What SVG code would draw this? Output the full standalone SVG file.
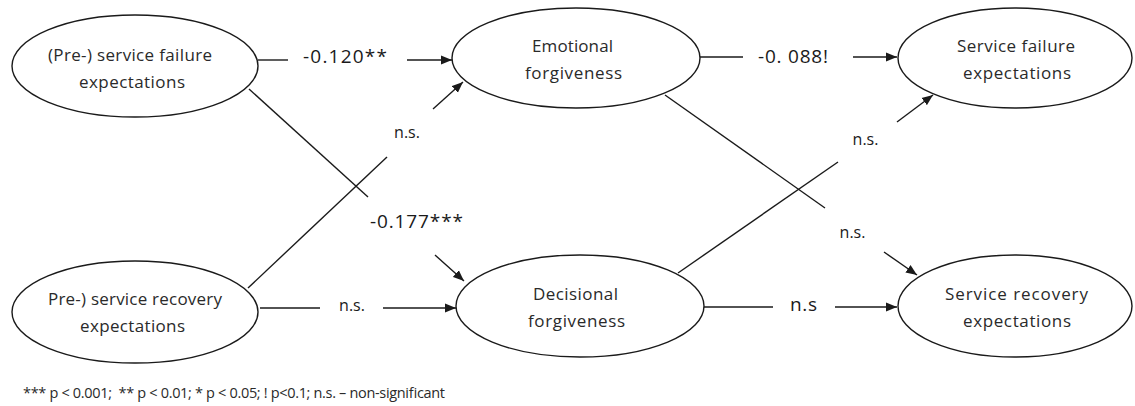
<svg xmlns="http://www.w3.org/2000/svg" width="1135" height="406" viewBox="0 0 1135 406">
<style>
.node ellipse{fill:#fff;stroke:#1a1a1a;stroke-width:1.4}
.node text{font-family:"Open Sans","Liberation Sans",sans-serif;font-size:17px;fill:#2a2a2a;text-anchor:middle}
.edge line{stroke:#1a1a1a;stroke-width:1.4;fill:none}
.arr{marker-end:url(#ah)}
.lbl{font-family:"Open Sans","Liberation Sans",sans-serif;fill:#1a1a1a;text-anchor:middle}
.big{font-size:19px}
.small{font-size:16px}
.legend{font-family:"Open Sans","Liberation Sans",sans-serif;font-size:14.5px;fill:#2a2a2a}
</style>
<defs>
<marker id="ah" markerUnits="userSpaceOnUse" markerWidth="12" markerHeight="10" refX="11" refY="5" orient="auto">
<path d="M0,0.5 L11,5 L0,9.5 Z" fill="#1a1a1a"/>
</marker>
</defs>
<rect width="1135" height="406" fill="#fff"/>
<g id="connectors" class="edge">
<line x1="258" y1="60" x2="288" y2="60"/>
<line class="arr" x1="407" y1="60" x2="452" y2="60"/>
<line x1="700" y1="57" x2="743" y2="57"/>
<line class="arr" x1="853" y1="57" x2="897" y2="57"/>
<line x1="260" y1="308" x2="320" y2="308"/>
<line class="arr" x1="383" y1="308" x2="456" y2="308"/>
<line x1="703" y1="307" x2="773" y2="307"/>
<line class="arr" x1="835" y1="307" x2="897" y2="307"/>
<line x1="249" y1="89" x2="368" y2="197"/>
<line class="arr" x1="435" y1="255" x2="464" y2="281"/>
<line x1="248" y1="288" x2="387" y2="157"/>
<line class="arr" x1="433" y1="109" x2="463" y2="82"/>
<line x1="665" y1="95" x2="825" y2="208"/>
<line class="arr" x1="884" y1="252" x2="917" y2="275"/>
<line x1="678" y1="273" x2="838" y2="162"/>
<line class="arr" x1="897" y1="122" x2="933" y2="95"/>
</g>
<g id="labels">
<text class="lbl big" x="345" y="63" textLength="84" lengthAdjust="spacing">-0.120**</text>
<text class="lbl big" x="793" y="63" textLength="70" lengthAdjust="spacing">-0. 088!</text>
<text class="lbl big" x="416.5" y="228" textLength="93" lengthAdjust="spacing">-0.177***</text>
<text class="lbl small" x="407" y="138">n.s.</text>
<text class="lbl small" x="352" y="311">n.s.</text>
<text class="lbl big" x="803.5" y="311" textLength="27" lengthAdjust="spacing">n.s</text>
<text class="lbl small" x="865.5" y="145">n.s.</text>
<text class="lbl small" x="852.5" y="238">n.s.</text>
</g>
<g id="n1" class="node">
<ellipse cx="135" cy="66" rx="123" ry="51"/>
<text x="130" y="61" textLength="164" lengthAdjust="spacing">(Pre-) service failure</text>
<text x="132" y="88" textLength="106" lengthAdjust="spacing">expectations</text>
</g>
<g id="n2" class="node">
<ellipse cx="576" cy="58" rx="124" ry="50"/>
<text x="572.5" y="52" textLength="81" lengthAdjust="spacing">Emotional</text>
<text x="573.5" y="79" textLength="97" lengthAdjust="spacing">forgiveness</text>
</g>
<g id="n3" class="node">
<ellipse cx="1015" cy="58" rx="117" ry="50"/>
<text x="1016" y="52" textLength="118" lengthAdjust="spacing">Service failure</text>
<text x="1017" y="79" textLength="108" lengthAdjust="spacing">expectations</text>
</g>
<g id="n4" class="node">
<ellipse cx="135" cy="312" rx="123" ry="51"/>
<text x="135" y="305" textLength="174" lengthAdjust="spacing">Pre-) service recovery</text>
<text x="132.5" y="332" textLength="105" lengthAdjust="spacing">expectations</text>
</g>
<g id="n5" class="node">
<ellipse cx="580" cy="306" rx="124" ry="51"/>
<text x="575.5" y="300" textLength="85" lengthAdjust="spacing">Decisional</text>
<text x="576.5" y="327" textLength="97" lengthAdjust="spacing">forgiveness</text>
</g>
<g id="n6" class="node">
<ellipse cx="1015" cy="306" rx="117" ry="51"/>
<text x="1016.5" y="300" textLength="143" lengthAdjust="spacing">Service recovery</text>
<text x="1017" y="327" textLength="108" lengthAdjust="spacing">expectations</text>
</g>
<text class="legend" x="23" y="398" xml:space="preserve" textLength="422" lengthAdjust="spacing">*** p &lt; 0.001;  ** p &lt; 0.01; * p &lt; 0.05; ! p&lt;0.1; n.s. – non-significant</text>
</svg>
